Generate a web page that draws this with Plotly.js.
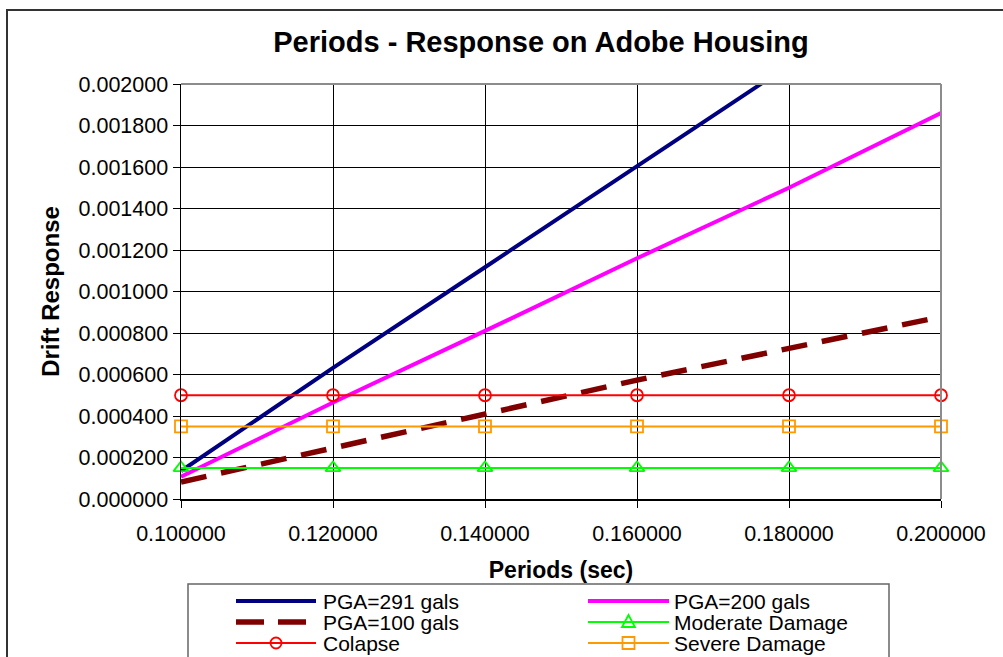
<!DOCTYPE html>
<html>
<head>
<meta charset="utf-8">
<script src="https://cdn.plot.ly/plotly-3.0.1.min.js"></script>
<style>
  html, body { margin: 0; padding: 0; background: #fff; }
  #chart { width: 1003px; height: 657px; }
</style>
</head>
<body>
<div id="chart"></div>
<script>
// Periods (sec) at which the drift response was evaluated
const periods = [0.10, 0.12, 0.14, 0.16, 0.18, 0.20];

// Drift response for each ground-motion level
const pga291 = [0.000135, 0.000632, 0.001117, 0.001605, 0.002090];
const pga200 = [0.000107, 0.000465, 0.000810, 0.001160, 0.001500, 0.001860];
const pga100 = [0.000082, 0.000246, 0.000409, 0.000573, 0.000726, 0.000878];

// Damage thresholds (constant drift limits)
const moderateDamage = [0.00015, 0.00015, 0.00015, 0.00015, 0.00015, 0.00015];
const colapse        = [0.00050, 0.00050, 0.00050, 0.00050, 0.00050, 0.00050];
const severeDamage   = [0.00035, 0.00035, 0.00035, 0.00035, 0.00035, 0.00035];

// Axis ticks
const periodTicks = [0.10, 0.12, 0.14, 0.16, 0.18, 0.20];
const driftTicks = [0, 0.0002, 0.0004, 0.0006, 0.0008, 0.0010, 0.0012, 0.0014, 0.0016, 0.0018, 0.0020];

// Series names
const names = ['PGA=291 gals', 'PGA=200 gals', 'PGA=100 gals', 'Moderate Damage', 'Colapse', 'Severe Damage'];

const FONT = 'Arial, "Liberation Sans", sans-serif';

const style = {
  navy: '#000080', magenta: '#FF00FF', maroon: '#800000',
  red: '#FF0000', orange: '#FF9900', green: '#00FF00'
};

const traces = [
  { x: periods.slice(0, pga291.length), y: pga291, name: names[0], mode: 'lines',
    line: { color: style.navy, width: 4 } },
  { x: periods, y: pga200, name: names[1], mode: 'lines',
    line: { color: style.magenta, width: 4 } },
  { x: periods, y: pga100, name: names[2], mode: 'lines',
    line: { color: style.maroon, width: 5.5, dash: '26px,15px' } },
  { x: periods, y: moderateDamage, name: names[3], mode: 'lines+markers',
    line: { color: style.green, width: 2 },
    marker: { symbol: 'triangle-up-open', size: 13, color: style.green, line: { width: 1.8 } } },
  { x: periods, y: colapse, name: names[4], mode: 'lines+markers',
    line: { color: style.red, width: 2 },
    marker: { symbol: 'circle-open', size: 12, color: style.red, line: { width: 1.8 } } },
  { x: periods, y: severeDamage, name: names[5], mode: 'lines+markers',
    line: { color: style.orange, width: 2 },
    marker: { symbol: 'square-open', size: 12, color: style.orange, line: { width: 1.8 } } }
];
traces.forEach(t => { t.showlegend = false; t.cliponaxis = false; t.hoverinfo = 'skip'; });

// Plot area in pixels
const M = { l: 181, r: 62, t: 84, b: 158 };
const W = 1003 - M.l - M.r, H = 657 - M.t - M.b;
const px = x => (x - M.l) / W;          // page x -> paper x
const py = y => (657 - M.b - y) / H;    // page y -> paper y

const shapes = [];
const annotations = [];

// Outer chart frame (left and top edges are on the page)
shapes.push({ type: 'rect', xref: 'paper', yref: 'paper', layer: 'below',
  x0: px(7), x1: px(1040), y0: py(700), y1: py(10),
  line: { color: '#333', width: 2 }, fillcolor: 'rgba(0,0,0,0)' });

// Plot-area frame on the top and right sides
shapes.push({ type: 'line', xref: 'paper', yref: 'paper', layer: 'above',
  x0: 0, x1: 1, y0: 1, y1: 1, line: { color: '#8c8c8c', width: 2 } });
shapes.push({ type: 'line', xref: 'paper', yref: 'paper', layer: 'above',
  x0: 1, x1: 1, y0: 0, y1: 1, line: { color: '#8c8c8c', width: 2 } });

// Legend box
shapes.push({ type: 'rect', xref: 'paper', yref: 'paper', layer: 'above',
  x0: px(188), x1: px(889), y0: py(700), y1: py(584),
  line: { color: '#666', width: 1.5 }, fillcolor: 'rgba(0,0,0,0)' });

// Legend entries: two columns, three rows
const cols = [{ l0: 236, l1: 316, tx: 321 }, { l0: 588, l1: 669, tx: 672 }];
const rows = [601, 622, 643];
const entries = [
  { trace: traces[0], col: 0, row: 0 },
  { trace: traces[1], col: 1, row: 0 },
  { trace: traces[2], col: 0, row: 1 },
  { trace: traces[3], col: 1, row: 1, mark: 'triangle' },
  { trace: traces[4], col: 0, row: 2, mark: 'circle' },
  { trace: traces[5], col: 1, row: 2, mark: 'square' }
];
entries.forEach(e => {
  const c = cols[e.col], y = rows[e.row];
  const ln = e.trace.line;
  shapes.push({ type: 'line', xref: 'paper', yref: 'paper', layer: 'above',
    x0: px(c.l0), x1: px(c.l1), y0: py(y), y1: py(y),
    line: { color: ln.color, width: ln.width, dash: ln.dash === undefined ? 'solid' : '28px,14px' } });
  const cx = (c.l0 + c.l1) / 2;
  const mline = { color: ln.color, width: 1.8 };
  const clear = 'rgba(0,0,0,0)';
  if (e.mark === 'circle') {
    shapes.push({ type: 'circle', xref: 'paper', yref: 'paper', layer: 'above',
      x0: px(cx - 5.5), x1: px(cx + 5.5), y0: py(y + 5.5), y1: py(y - 5.5),
      line: mline, fillcolor: clear });
  } else if (e.mark === 'square') {
    shapes.push({ type: 'rect', xref: 'paper', yref: 'paper', layer: 'above',
      x0: px(cx - 6), x1: px(cx + 6), y0: py(y + 6), y1: py(y - 6),
      line: mline, fillcolor: clear });
  } else if (e.mark === 'triangle') {
    const p = `M${px(cx)},${py(y - 7)} L${px(cx + 6.5)},${py(y + 5)} L${px(cx - 6.5)},${py(y + 5)} Z`;
    shapes.push({ type: 'path', xref: 'paper', yref: 'paper', layer: 'above',
      path: p, line: mline, fillcolor: clear });
  }
  annotations.push({ xref: 'paper', yref: 'paper', x: px(c.tx), y: py(y),
    xanchor: 'left', yanchor: 'middle', showarrow: false, text: e.trace.name,
    font: { family: FONT, size: 21, color: '#000' } });
});

const layout = {
  width: 1003, height: 657,
  margin: Object.assign({ pad: 0 }, M),
  paper_bgcolor: '#fff', plot_bgcolor: '#fff',
  font: { family: FONT, color: '#000' },
  showlegend: false,
  title: {
    text: 'Periods - Response on Adobe Housing',
    font: { family: FONT, size: 29, weight: 'bold', color: '#000' },
    xref: 'container', yref: 'container',
    x: 541 / 1003, xanchor: 'center', y: 1 - 42 / 657, yanchor: 'middle'
  },
  xaxis: {
    range: [0.1, 0.2], tickvals: periodTicks, tickformat: '.6f',
    showgrid: true, gridcolor: '#000', gridwidth: 1,
    showline: true, linecolor: '#000', linewidth: 1.5, zeroline: false,
    ticks: 'outside', ticklen: 7, tickcolor: '#000', tickwidth: 1,
    ticklabelstandoff: 8,
    tickfont: { family: FONT, size: 21.5, color: '#000' },
    title: { text: 'Periods (sec)', font: { family: FONT, size: 23, weight: 'bold', color: '#000' }, standoff: 16 },
    fixedrange: true
  },
  yaxis: {
    range: [0, 0.002], tickvals: driftTicks, tickformat: '.6f',
    showgrid: true, gridcolor: '#000', gridwidth: 1,
    showline: true, linecolor: '#000', linewidth: 1.5, zeroline: false,
    ticks: 'outside', ticklen: 7, tickcolor: '#000', tickwidth: 1,
    tickfont: { family: FONT, size: 21.5, color: '#000' },
    title: { text: 'Drift Response', font: { family: FONT, size: 24, weight: 'bold', color: '#000' }, standoff: 12 },
    fixedrange: true
  },
  shapes: shapes,
  annotations: annotations
};

Plotly.newPlot('chart', traces, layout, { staticPlot: true, displayModeBar: false });
</script>
</body>
</html>
